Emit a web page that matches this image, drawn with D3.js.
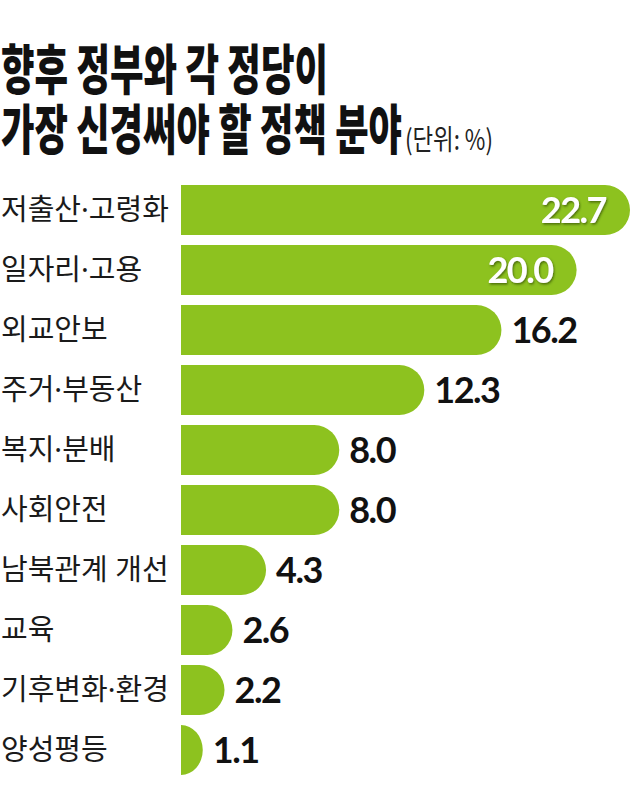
<!DOCTYPE html>
<html>
<head>
<meta charset="utf-8">
<script src="https://cdn.jsdelivr.net/npm/d3@7"></script>
<style>
  html, body { margin: 0; padding: 0; background: #ffffff; }
  svg { display: block; }
</style>
</head>
<body>
<script>
const titleLine1 = "향후 정부와 각 정당이";
const titleLine2 = "가장 신경써야 할 정책 분야";
const unitLabel = "(단위: %)";
const categories = ["저출산·고령화", "일자리·고용", "외교안보", "주거·부동산", "복지·분배", "사회안전", "남북관계 개선", "교육", "기후변화·환경", "양성평등"];
const values = [22.7, 20.0, 16.2, 12.3, 8.0, 8.0, 4.3, 2.6, 2.2, 1.1];
const insideThreshold = 18;

const W = 640, H = 805;
const barColor = "#8dc21f";

const svg = d3.select("body").append("svg").attr("width", W).attr("height", H);

const defs = svg.append("defs");
const f = defs.append("filter").attr("id", "shadow").attr("x", "-20%").attr("y", "-20%").attr("width", "140%").attr("height", "140%");
f.append("feDropShadow").attr("dx", 1).attr("dy", 1.5).attr("stdDeviation", 1.2).attr("flood-color", "#2d4a00").attr("flood-opacity", 0.7);

// Title
const titleFont = "'Noto Sans CJK KR', 'Noto Sans', sans-serif";
const labelFont = "'Noto Sans', 'Noto Sans CJK KR', sans-serif";
svg.append("text")
  .attr("x", 1).attr("y", 90)
  .attr("font-family", titleFont).attr("font-weight", 900).attr("font-size", 54)
  .attr("textLength", 327).attr("lengthAdjust", "spacingAndGlyphs")
  .attr("fill", "#111")
  .text(titleLine1);
svg.append("text")
  .attr("x", 1).attr("y", 150)
  .attr("font-family", titleFont).attr("font-weight", 900).attr("font-size", 54)
  .attr("textLength", 401).attr("lengthAdjust", "spacingAndGlyphs")
  .attr("fill", "#111")
  .text(titleLine2);
svg.append("text")
  .attr("x", 405).attr("y", 150)
  .attr("font-family", titleFont).attr("font-weight", 400).attr("font-size", 28)
  .attr("textLength", 88).attr("lengthAdjust", "spacingAndGlyphs")
  .attr("fill", "#222")
  .text(unitLabel);

// Scales
const y = d3.scaleBand().domain(categories).range([185, 775]).paddingInner(1/6).paddingOuter(0);
const x = d3.scaleLinear().domain([0, 25]).range([181, 675.5]);

const data = categories.map((c, i) => ({ cat: c, val: values[i] }));

function barPath(x0, y0, w, h) {
  const ry = h / 2;
  const rx = Math.min(ry, w);
  return `M${x0},${y0}H${x0 + w - rx}A${rx},${ry} 0 0 1 ${x0 + w},${y0 + ry}A${rx},${ry} 0 0 1 ${x0 + w - rx},${y0 + h}H${x0}Z`;
}

const g = svg.append("g");
g.selectAll("path.bar").data(data).join("path")
  .attr("class", "bar")
  .attr("fill", barColor)
  .attr("d", d => barPath(x(0), y(d.cat), x(d.val) - x(0), y.bandwidth()));

// Category labels
g.selectAll("text.cat").data(data).join("text")
  .attr("class", "cat")
  .attr("x", 1)
  .attr("y", d => y(d.cat) + y.bandwidth() / 2 + 10)
  .attr("font-family", labelFont).attr("font-weight", 400).attr("font-size", 29)
  .attr("fill", "#1a1a1a")
  .text(d => d.cat);

// Value labels
const numFont = "Lato, 'Open Sans', sans-serif";
g.selectAll("text.val").data(data).join("text")
  .attr("class", "val")
  .attr("x", d => d.val > insideThreshold ? x(d.val) - 24 : x(d.val) + 10)
  .attr("y", d => y(d.cat) + y.bandwidth() / 2 + 13)
  .attr("text-anchor", d => d.val > insideThreshold ? "end" : "start")
  .attr("font-family", numFont).attr("font-weight", 700).attr("font-size", 36)
  .attr("letter-spacing", -1.5)
  .attr("fill", d => d.val > insideThreshold ? "#ffffff" : "#111111")
  .attr("filter", d => d.val > insideThreshold ? "url(#shadow)" : null)
  .text(d => d.val.toFixed(1));
</script>
</body>
</html>
